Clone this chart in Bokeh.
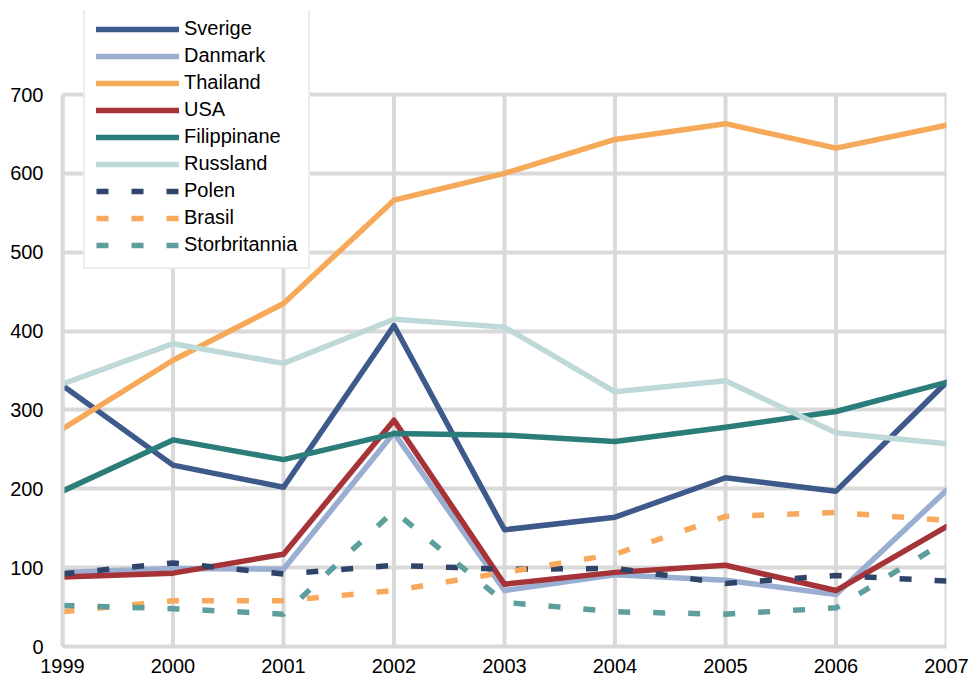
from bokeh.plotting import figure
from bokeh.models import Range1d, FixedTicker, Legend, LegendItem
from bokeh.embed import file_html
from bokeh.resources import INLINE

years = [1999, 2000, 2001, 2002, 2003, 2004, 2005, 2006, 2007]
y_ticks = [0, 100, 200, 300, 400, 500, 600, 700]

sverige = [331, 230, 202, 407, 148, 164, 214, 197, 335]
danmark = [94, 99, 98, 271, 71, 91, 84, 66, 198]
thailand = [276, 363, 435, 566, 600, 643, 663, 632, 661]
usa = [88, 93, 117, 287, 79, 94, 103, 71, 152]
filippinane = [197, 262, 237, 270, 268, 260, 278, 298, 335]
russland = [333, 384, 359, 415, 405, 323, 337, 271, 257]
polen = [92, 106, 92, 103, 98, 99, 80, 90, 83]
brasil = [44, 58, 58, 71, 94, 117, 165, 170, 160]
storbritannia = [52, 48, 41, 172, 56, 44, 41, 49, 134]

series = [
    ("Sverige", sverige, "#3E5A8B", "solid"),
    ("Danmark", danmark, "#9AAED2", "solid"),
    ("Thailand", thailand, "#F7A95A", "solid"),
    ("USA", usa, "#A53338", "solid"),
    ("Filippinane", filippinane, "#2B7D7A", "solid"),
    ("Russland", russland, "#BFD9D9", "solid"),
    ("Polen", polen, "#2F4469", "12 23"),
    ("Brasil", brasil, "#F8A95B", "12 23"),
    ("Storbritannia", storbritannia, "#5E9F9D", "12 23"),
]

FONT = "Liberation Sans"
GRID = "#D9D9D9"

# frame extends above the 700 line so that the legend (which overlaps the top) is not clipped
top_px, y700_px, y0_px = 10, 94, 646
y_end = y_ticks[-1] + (y700_px - top_px) * (y_ticks[-1] - y_ticks[0]) / (y0_px - y700_px)

p = figure(width=970, height=682, output_backend="svg", toolbar_location=None,
           x_range=Range1d(years[0], years[-1]), y_range=Range1d(y_ticks[0], y_end),
           min_border_left=62, min_border_top=top_px, min_border_right=24, min_border_bottom=36)
p.background_fill_color = "white"
p.border_fill_color = "white"
p.outline_line_color = None

p.xaxis.ticker = FixedTicker(ticks=years)
p.yaxis.ticker = FixedTicker(ticks=y_ticks)
for ax in (p.xaxis[0], p.yaxis[0]):
    ax.axis_line_color = GRID
    ax.axis_line_width = 4
    ax.major_tick_line_color = None
    ax.minor_tick_line_color = None
    ax.major_label_text_font = FONT
    ax.major_label_text_font_size = "20px"
    ax.major_label_text_color = "#000000"
p.yaxis.bounds = (y_ticks[0], y_ticks[-1])
p.yaxis.major_label_standoff = 13
p.xaxis.major_label_standoff = 6

p.xgrid.grid_line_color = None
p.ygrid.grid_line_color = GRID
p.ygrid.grid_line_width = 4

# vertical grid lines, limited to the 0..700 value band
p.segment(x0=years, y0=[y_ticks[0]] * len(years), x1=years, y1=[y_ticks[-1]] * len(years),
          line_color=GRID, line_width=4)

items = []
for name, vals, color, dash in series:
    if dash == "solid":
        r = p.line(years, vals, line_color=color, line_width=5.5, line_join="round", line_cap="round")
    else:
        r = p.line(years, vals, line_color=color, line_width=5.5, line_dash=dash, line_cap="butt")
    items.append(LegendItem(label=name, renderers=[r]))

legend = Legend(items=items, location=(21, 377))
legend.label_text_font = FONT
legend.label_text_font_size = "20px"
legend.label_text_color = "#000000"
legend.glyph_width = 83
legend.glyph_height = 20
legend.label_height = 20
legend.spacing = 4
legend.padding = 11
legend.margin = 0
legend.label_standoff = 5
legend.border_line_color = GRID
legend.border_line_width = 2
legend.background_fill_color = "white"
legend.background_fill_alpha = 1.0
p.add_layout(legend, "center")

open("out.html", "w").write(file_html(p, INLINE))
